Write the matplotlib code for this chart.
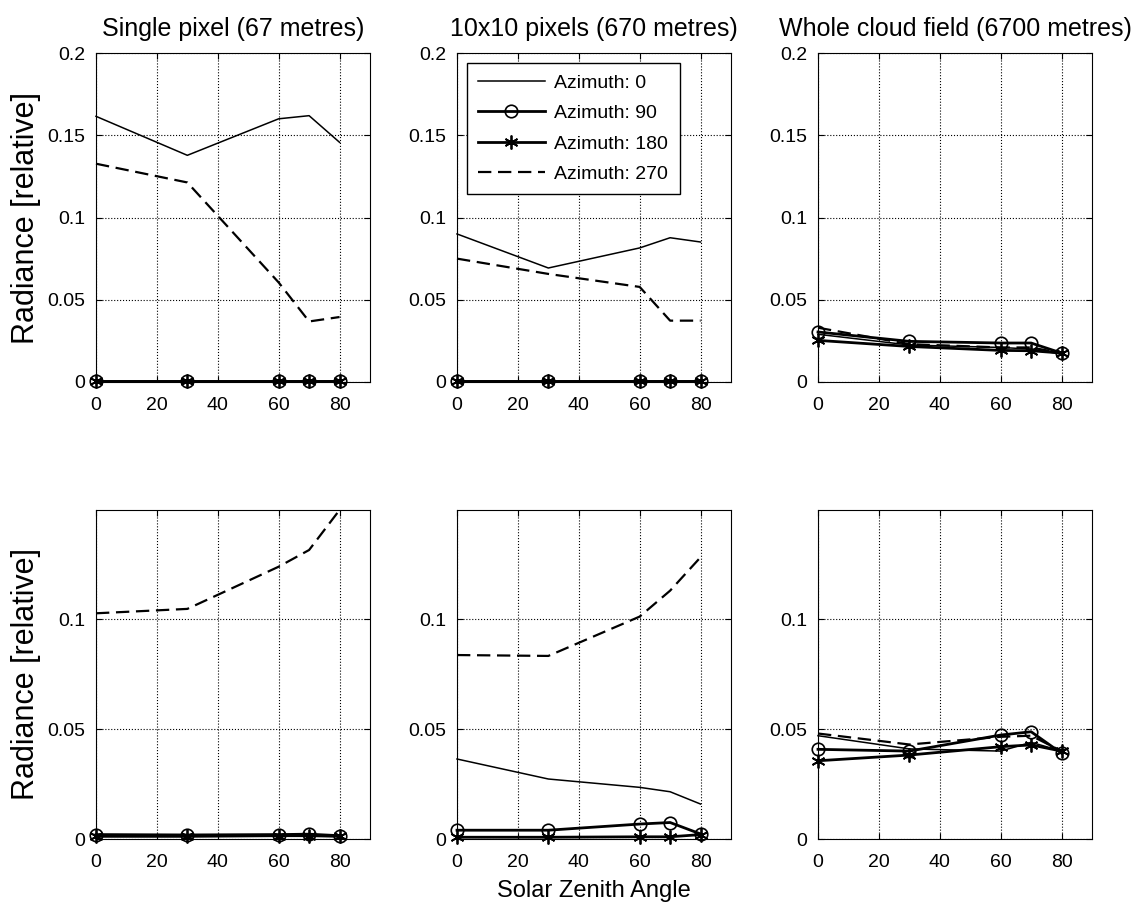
import matplotlib
matplotlib.use('Agg')
import matplotlib.pyplot as plt

plt.rcParams['font.family'] = ['Liberation Sans', 'DejaVu Sans']

sza = [0, 30, 60, 70, 80]
titles = ['Single pixel (67 metres)', '10x10 pixels (670 metres)', 'Whole cloud field (6700 metres)']
labels = ['Azimuth: 0', 'Azimuth: 90', 'Azimuth: 180', 'Azimuth: 270']

# top row
top_az0 = [[0.1615, 0.1378, 0.1600, 0.1619, 0.1457],
           [0.0900, 0.0693, 0.0815, 0.0877, 0.0851],
           [0.0290, 0.0225, 0.0210, 0.0200, 0.0170]]
top_az90 = [[0.0005, 0.0005, 0.0005, 0.0005, 0.0005],
            [0.0005, 0.0005, 0.0005, 0.0005, 0.0005],
            [0.0304, 0.0247, 0.0237, 0.0237, 0.0176]]
top_az180 = [[0.0005, 0.0005, 0.0005, 0.0005, 0.0005],
             [0.0005, 0.0005, 0.0005, 0.0005, 0.0005],
             [0.0253, 0.0216, 0.0192, 0.0190, 0.0176]]
top_az270 = [[0.1327, 0.1213, 0.0605, 0.0368, 0.0395],
             [0.0750, 0.0657, 0.0578, 0.0373, 0.0373],
             [0.0330, 0.0230, 0.0210, 0.0210, 0.0175]]

# bottom row
bot_az0 = [[0.0020, 0.0020, 0.0020, 0.0020, 0.0015],
           [0.0364, 0.0273, 0.0235, 0.0215, 0.0159],
           [0.0470, 0.0410, 0.0400, 0.0440, 0.0400]]
bot_az90 = [[0.0020, 0.0018, 0.0020, 0.0022, 0.0015],
            [0.0040, 0.0040, 0.0068, 0.0075, 0.0023],
            [0.0408, 0.0400, 0.0473, 0.0488, 0.0390]]
bot_az180 = [[0.0012, 0.0012, 0.0015, 0.0015, 0.0012],
             [0.0008, 0.0008, 0.0010, 0.0010, 0.0020],
             [0.0356, 0.0382, 0.0420, 0.0428, 0.0400]]
bot_az270 = [[0.1027, 0.1047, 0.1239, 0.1315, 0.1497],
             [0.0837, 0.0833, 0.1012, 0.1130, 0.1282],
             [0.0480, 0.0430, 0.0465, 0.0470, 0.0400]]

fig = plt.figure(figsize=(11.42, 9.09), dpi=100)
W, H = 1142.0, 909.0
lefts = [96, 457, 818]
aw = 274
tops = [53, 510]
ah = 329

star = (6, 2, 0)  # asterisk like matlab '*'


def draw(ax, a0, a90, a180, a270):
    ax.plot(sza, a0, '-', color='k', lw=1.1, label=labels[0], clip_on=False)
    ax.plot(sza, a90, '-', marker='o', color='k', lw=2.0, mfc='none', ms=9, mew=1.2,
            label=labels[1], clip_on=False)
    ax.plot(sza, a180, '-', marker=star, color='k', lw=2.0, ms=10, mew=1.3,
            label=labels[2], clip_on=False)
    ax.plot(sza, a270, '--', color='k', lw=1.6, dashes=(6, 3), label=labels[3], clip_on=False)
    ax.set_xlim(0, 90)
    ax.set_xticks([0, 20, 40, 60, 80])
    ax.grid(True, linestyle=':', color='k', lw=0.8)
    ax.tick_params(direction='in', top=True, right=True, labelsize=14, length=4)
    ax.tick_params(axis='x', pad=11)
    ax.tick_params(axis='y', pad=8)
    for s in ax.spines.values():
        s.set_linewidth(0.8)


for r in range(2):
    for c in range(3):
        ax = fig.add_axes([lefts[c] / W, 1 - (tops[r] + ah) / H, aw / W, ah / H])
        if r == 0:
            draw(ax, top_az0[c], top_az90[c], top_az180[c], top_az270[c])
            ax.set_ylim(0, 0.2)
            ax.set_yticks([0, 0.05, 0.1, 0.15, 0.2])
            ax.set_yticklabels(['0', '0.05', '0.1', '0.15', '0.2'])
            ax.set_title(titles[c], fontsize=18, pad=12)
            if c == 1:
                ax.legend(loc='upper left', fontsize=14, handlelength=3.4,
                          fancybox=False, edgecolor='k', framealpha=1,
                          borderpad=0.6, labelspacing=0.65, handletextpad=0.5)
        else:
            draw(ax, bot_az0[c], bot_az90[c], bot_az180[c], bot_az270[c])
            ax.set_ylim(0, 0.1497)
            ax.set_yticks([0, 0.05, 0.1])
            ax.set_yticklabels(['0', '0.05', '0.1'])
            if c == 1:
                ax.set_xlabel('Solar Zenith Angle', fontsize=17, labelpad=6)
        if c == 0:
            ax.set_ylabel('Radiance [relative]', fontsize=22, labelpad=4)

fig.savefig('out.png', dpi=100)
